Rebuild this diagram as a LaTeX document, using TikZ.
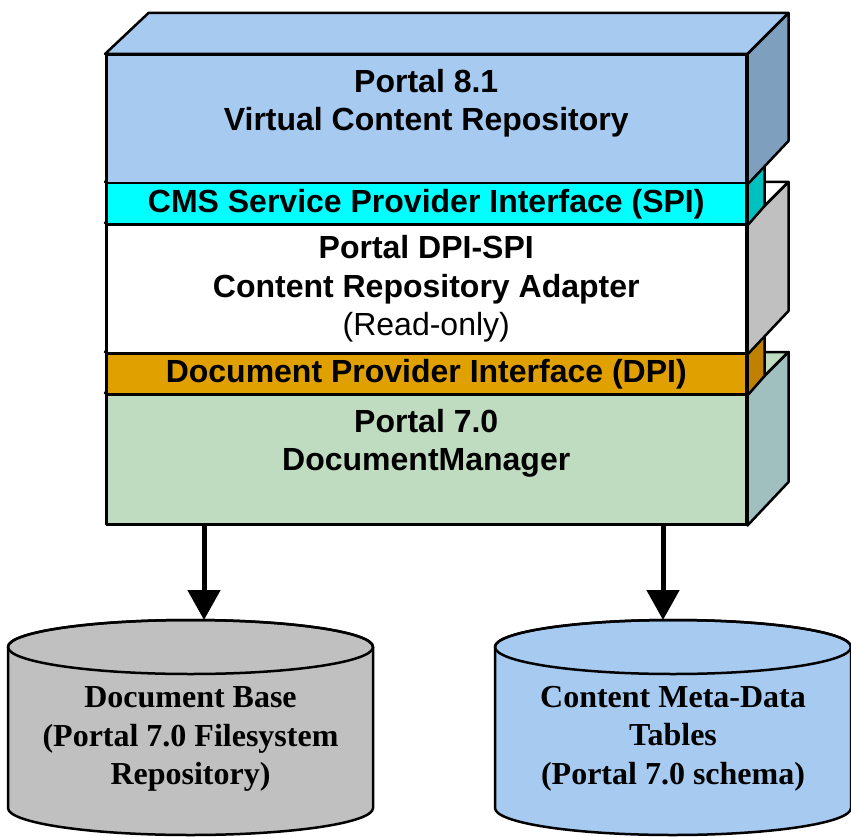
\documentclass[tikz,border=0pt]{standalone}
\usepackage{fontspec}
\setmainfont{Liberation Serif}
\setsansfont{Liberation Sans}
\usetikzlibrary{arrows.meta}
\definecolor{vcrblue}{HTML}{A6CAF0}
\definecolor{vcrside}{HTML}{7F9FBF}
\definecolor{spicyan}{HTML}{00FFFF}
\definecolor{spiside}{HTML}{00C0C0}
\definecolor{adpside}{HTML}{C0C0C0}
\definecolor{dpiorange}{HTML}{E0A000}
\definecolor{dpiside}{HTML}{C08000}
\definecolor{dmgreen}{HTML}{C0DCC0}
\definecolor{dmside}{HTML}{A0C0C0}
\definecolor{dbgray}{HTML}{C0C0C0}
\begin{document}
\begin{tikzpicture}[x=1pt,y=-1pt,line width=2.5pt,line join=round,
  layer/.style={draw,anchor=north west,minimum width=640pt,inner sep=0pt,align=center,
    font=\sffamily\bfseries\fontsize{32}{38.5}\selectfont},
  storetext/.style={align=center,inner sep=0pt,font=\bfseries\fontsize{32}{38.5}\selectfont},
  feed/.style={line width=5pt,-{Triangle[width=32pt,length=30pt]}}]
  \useasboundingbox (0,0) rectangle (851,837);
  % DocumentManager box
  \node[layer,fill=dmgreen,minimum height=130pt](dm)at(105,393){Portal 7.0\\DocumentManager\\~};
  \filldraw[fill=dmgreen](dm.north west)--(dm.north east)--++(41,-41)--++(-640,0)--cycle;
  \filldraw[fill=dmside](dm.north east)--++(41,-41)--++(0,130)--(dm.south east)--cycle;
  % DPI band
  \node[layer,fill=dpiorange,minimum height=41pt](dpi)at(105,352){Document Provider Interface (DPI)};
  \filldraw[fill=dpiorange](dpi.north west)--(dpi.north east)--++(17,-17)--++(-640,0)--cycle;
  \filldraw[fill=dpiside](dpi.north east)--++(17,-17)--++(0,41)--(dpi.south east)--cycle;
  % adapter box
  \node[layer,fill=white,minimum height=129pt](adp)at(105,223){Portal DPI-SPI\\Content Repository Adapter\\{\mdseries(Read-only)}};
  \filldraw[fill=white](adp.north west)--(adp.north east)--++(41,-41)--++(-640,0)--cycle;
  \filldraw[fill=adpside](adp.north east)--++(41,-41)--++(0,129)--(adp.south east)--cycle;
  % SPI band
  \node[layer,fill=spicyan,minimum height=41pt](spi)at(105,182){CMS Service Provider Interface (SPI)};
  \filldraw[fill=spicyan](spi.north west)--(spi.north east)--++(17,-17)--++(-640,0)--cycle;
  \filldraw[fill=spiside](spi.north east)--++(17,-17)--++(0,41)--(spi.south east)--cycle;
  % Portal 8.1 box
  \node[layer,fill=vcrblue,minimum height=128pt](vcr)at(105,54){Portal 8.1\\Virtual Content Repository\\~};
  \filldraw[fill=vcrblue](vcr.north west)--(vcr.north east)--++(41,-41)--++(-640,0)--cycle;
  \filldraw[fill=vcrside](vcr.north east)--++(41,-41)--++(0,128)--(vcr.south east)--cycle;
  % stores
  \foreach \cx/\rx/\col/\nm in {190.5/182.5/dbgray/db,673/178/vcrblue/meta}{
    \filldraw[fill=\col](\cx-\rx,647)--(\cx-\rx,808)
      arc[start angle=180,end angle=0,x radius=\rx,y radius=27]--(\cx+\rx,647)
      arc[start angle=0,end angle=-180,x radius=\rx,y radius=27]--cycle;
    \draw(\cx,647)ellipse[x radius=\rx,y radius=27];
    \coordinate(\nm)at(\cx,620);
  }
  \node[storetext](dbtext)at(190.5,739){Document Base\\(Portal 7.0 Filesystem\\Repository)};
  \node[storetext](metatext)at(673,738.5){Content Meta-Data\\Tables\\(Portal 7.0 schema)};
  \draw[feed]([xshift=99pt]dm.south west)--([xshift=99pt]dm.south west |- db);
  \draw[feed]([xshift=558pt]dm.south west)--([xshift=558pt]dm.south west |- meta);
\end{tikzpicture}
\end{document}
